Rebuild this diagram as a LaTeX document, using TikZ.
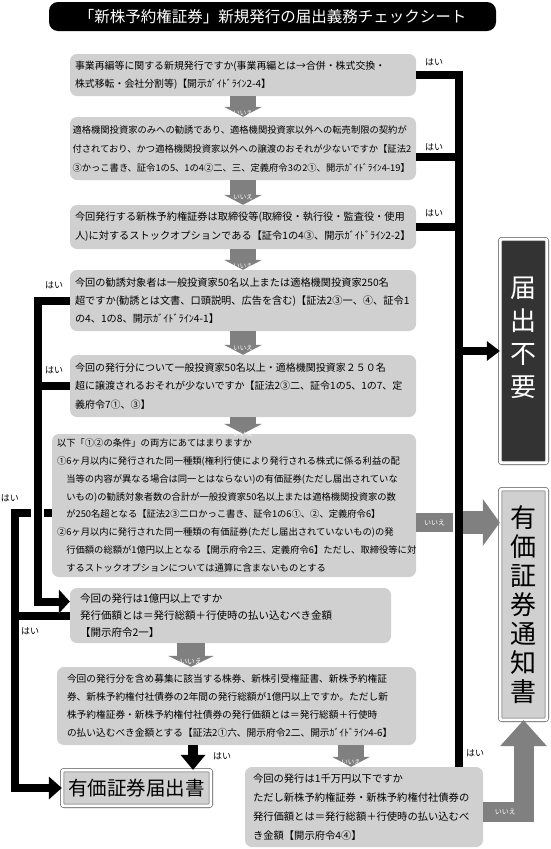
\documentclass[tikz,border=0pt]{standalone}
\usepackage{fontspec}
\setmainfont{Noto Sans CJK JP}
\usepackage{tikz}
\usetikzlibrary{arrows.meta}
\definecolor{boxgray}{HTML}{D0D0D0}
\definecolor{arrowgray}{HTML}{808080}
\definecolor{darkbox}{HTML}{333333}

\begin{document}
\begin{tikzpicture}[x=1pt,y=-1pt,
  qbox/.style={fill=boxgray,rounded corners=7pt,align=left,inner sep=0pt,minimum width=346pt},
  endbox/.style={draw=black!70,line width=0.6pt,double=white,double distance=3pt,rounded corners=2pt,inner sep=0pt},
  yesline/.style={line width=8pt},
  yeslbl/.style={font=\fontsize{9}{9}\selectfont,inner sep=0pt},
  noarrow/.style={arrowgray,line width=26pt,-{Triangle[width=38pt,length=10pt,line width=0pt]}},
  nolbl/.style={text=white,font=\fontsize{6.5}{6.5}\selectfont,inner sep=0pt}]
  \fill[white] (0,0) rectangle (550,849);

  \node[fill=black,rounded corners=9pt,text=white,minimum width=447pt,minimum height=29pt,
    font=\fontsize{15.5}{15.5}\selectfont] (title) at (272.5,16.5) {「新株予約権証券」新規発行の届出義務チェックシート};

  \node[qbox,minimum height=42pt,text width=336pt,font=\fontsize{9.9}{18}\selectfont] (b1) at (243,75)
    {事業再編等に関する新規発行ですか(事業再編とは→合併・株式交換・\\
     株式移転・会社分割等)【開示ｶﾞｲﾄﾞﾗｲﾝ2-4】};
  \node[qbox,minimum height=63pt,text width=341pt,font=\fontsize{9.3}{19}\selectfont] (b2) at (243,148.5)
    {適格機関投資家のみへの勧誘であり、適格機関投資家以外への転売制限の契約が\\
     付されており、かつ適格機関投資家以外への譲渡のおそれが少ないですか【証法2\\
     ③かっこ書き、証令1の5、1の4②二、三、定義府令3の2①、開示ｶﾞｲﾄﾞﾗｲﾝ4-19】};
  \node[qbox,minimum height=44pt,text width=336pt,font=\fontsize{10.2}{19}\selectfont] (b3) at (243,227)
    {今回発行する新株予約権証券は取締役等(取締役・執行役・監査役・使用\\
     人)に対するストックオプションである【証令1の4③、開示ｶﾞｲﾄﾞﾗｲﾝ2-2】};
  \node[qbox,minimum height=61pt,text width=336pt,font=\fontsize{10.2}{18}\selectfont] (b4) at (243,300.5)
    {今回の勧誘対象者は一般投資家50名以上または適格機関投資家250名\\
     超ですか(勧誘とは文書、口頭説明、広告を含む)【証法2③一、④、証令1\\
     の4、1の8、開示ｶﾞｲﾄﾞﾗｲﾝ4-1】};
  \node[qbox,minimum height=62pt,text width=336pt,font=\fontsize{10}{18.5}\selectfont] (b5) at (243,386)
    {今回の発行分について一般投資家50名以上・適格機関投資家２５０名\\
     超に譲渡されるおそれが少ないですか【証法2③二、証令1の5、1の7、定\\
     義府令7①、③】};
  \node[qbox,minimum width=364pt,minimum height=143pt,text width=354pt,font=\fontsize{9.3}{17.8}\selectfont] (b6) at (234,505.5)
    {以下「①②の条件」の両方にあてはまりますか\\
     ①6ヶ月以内に発行された同一種類(権利行使により発行される株式に係る利益の配\\
     \hspace*{1em}当等の内容が異なる場合は同一とはならない)の有価証券(ただし届出されていな\\
     \hspace*{1em}いもの)の勧誘対象者数の合計が一般投資家50名以上または適格機関投資家の数\\
     \hspace*{1em}が250名超となる【証法2③二ロかっこ書き、証令1の6①、②、定義府令6】\\
     ②6ヶ月以内に発行された同一種類の有価証券(ただし届出されていないもの)の発\\
     \hspace*{1em}行価額の総額が1億円以上となる【開示府令2三、定義府令6】ただし、取締役等に対\\
     \hspace*{1em}するストックオプションについては通算に含まないものとする};
  \node[qbox,minimum width=321pt,minimum height=55pt,text width=301pt,font=\fontsize{10.5}{17}\selectfont] (b7) at (230.5,615.5)
    {今回の発行は1億円以上ですか\\
     発行価額とは＝発行総額＋行使時の払い込むべき金額\\
     【開示府令2一】};
  \node[qbox,minimum width=359pt,minimum height=78pt,text width=339pt,font=\fontsize{9.7}{18}\selectfont] (b8) at (236.5,706)
    {今回の発行分を含め募集に該当する株券、新株引受権証書、新株予約権証\\
     券、新株予約権付社債券の2年間の発行総額が1億円以上ですか。ただし新\\
     株予約権証券・新株予約権付社債券の発行価額とは＝発行総額＋行使時\\
     の払い込むべき金額とする【証法2①六、開示府令2二、開示ｶﾞｲﾄﾞﾗｲﾝ4-6】};
  \node[qbox,minimum width=238pt,minimum height=80pt,text width=222pt,font=\fontsize{10.3}{19}\selectfont] (b9) at (364,807)
    {今回の発行は1千万円以下ですか\\
     ただし新株予約権証券・新株予約権付社債券の\\
     発行価額とは＝発行総額＋行使時の払い込むべ\\
     き金額【開示府令4④】};

  \node[endbox,fill=darkbox,minimum width=46.8pt,minimum height=223.8pt] (fuyou) at (523.5,351) {};
  \node[text=white,align=center,font=\fontsize{26}{33}\selectfont] (fuyoutxt) at (523.5,338) {届\\出\\不\\要};
  \node[endbox,fill=boxgray,align=center,minimum width=46.8pt,minimum height=230.8pt,
    font=\fontsize{26}{29}\selectfont] (tsuchi) at (523.5,604.5) {有\\価\\証\\券\\通\\知\\書};
  \node[endbox,fill=boxgray,minimum width=148.8pt,minimum height=35.8pt,
    font=\fontsize{19.5}{19.5}\selectfont] (todoke) at (136.5,788) {有価証券届出書};

  % いいえ
  \draw[noarrow] (b1.south) -- node[nolbl,at start,anchor=north,yshift=-1pt] (no1) {いいえ} (b2.north);
  \draw[noarrow] (b2.south) -- node[nolbl,at start,anchor=north,yshift=-1pt] (no2) {いいえ} (b3.north);
  \draw[noarrow] (b3.south) -- node[nolbl,at start,anchor=north,yshift=-1pt] (no3) {いいえ} (b4.north);
  \draw[noarrow] (b4.south) -- node[nolbl,at start,anchor=north,yshift=-1pt] (no4) {いいえ} (b5.north);
  \draw[noarrow] (b5.south) -- node[nolbl,at start,anchor=north,yshift=-1pt] (no5) {いいえ} (b5.south |- b6.north);
  \coordinate (a7) at (191,0);
  \draw[noarrow,line width=28pt,-{Triangle[width=46pt,length=11pt,line width=0pt]}] (a7 |- b7.south)
    -- node[nolbl,at start,anchor=north,yshift=-1.5pt,font=\fontsize{7.5}{7.5}\selectfont] (no7) {いいえ} (a7 |- b8.north);
  \coordinate (a9) at (351,0);
  \draw[noarrow] (a9 |- b8.south) -- node[nolbl,at start,anchor=north,yshift=-1pt] (no8) {いいえ} (a9 |- b9.north);
  \node[fill=arrowgray,text=white,minimum width=37pt,minimum height=19pt,inner sep=0pt,
    font=\fontsize{7}{7}\selectfont] (no6) at (434.5,522.5) {いいえ};
  \draw[arrowgray,line width=23pt,-{Triangle[width=47pt,length=17pt,line width=0pt]}]
    ([xshift=10pt]no6.east) -- (tsuchi.west |- no6.east);
  \coordinate (y9) at ([yshift=-5pt]b9.east);
  \draw[arrowgray,line width=20pt,-{Triangle[width=47pt,length=26pt,line width=0pt]}]
    (y9) -- node[nolbl,pos=0.55,font=\fontsize{7}{7}\selectfont] (no9) {いいえ} (y9 -| tsuchi.south) -- (tsuchi.south);

  % はい, right
  \coordinate (rtop) at (459,75);
  \coordinate (y2) at ([yshift=-8pt]b2.east);
  \draw[yesline] (b1.east) -- (rtop) -- (rtop |- b9.north);
  \draw[yesline] (y2) -- (y2 -| rtop);
  \draw[yesline] (b3.east) -- (b3.east -| rtop);
  \draw[yesline,-{Triangle[width=20pt,length=13pt,line width=0pt]}] (rtop |- fuyou.west) -- (fuyou.west);

  % はい, left
  \coordinate (lx1) at (37.5,0);
  \coordinate (lx2) at (15,0);
  \coordinate (y6) at ([yshift=-7.5pt]b6.west);
  \coordinate (a7in) at ([yshift=14pt]b7.west);
  \draw[yesline,-{Triangle[width=23pt,length=13pt,line width=0pt]}] (y6) -- (y6 -| lx2) -- (lx2 |- todoke.west) -- (todoke.west);
  \draw[yesline] (b7.west) -- (b7.west -| lx2);
  \draw[yesline,preaction={draw=white,line width=13pt},-{Triangle[width=24pt,length=11pt,line width=0pt]}]
    (b4.west) -- (b4.west -| lx1) -- (lx1 |- a7in) -- (a7in);
  \draw[yesline] (b5.west) -- (b5.west -| lx1);
  \coordinate (a8) at (193,0);
  \draw[line width=10pt,-{Triangle[width=25pt,length=15pt,line width=0pt]}] (a8 |- b8.south) -- (a8 |- todoke.north);

  \node[yeslbl] (yes1) at (434,62) {はい};
  \node[yeslbl] (yes2) at (434,147) {はい};
  \node[yeslbl] (yes3) at (434,213) {はい};
  \node[yeslbl] (yes4) at (54,285) {はい};
  \node[yeslbl] (yes5) at (54,370) {はい};
  \node[yeslbl] (yes6) at (10,498) {はい};
  \node[yeslbl] (yes7) at (30,631) {はい};
  \node[yeslbl] (yes8) at (222,756) {はい};
  \node[yeslbl] (yes9) at (475,753) {はい};
\end{tikzpicture}
\end{document}
